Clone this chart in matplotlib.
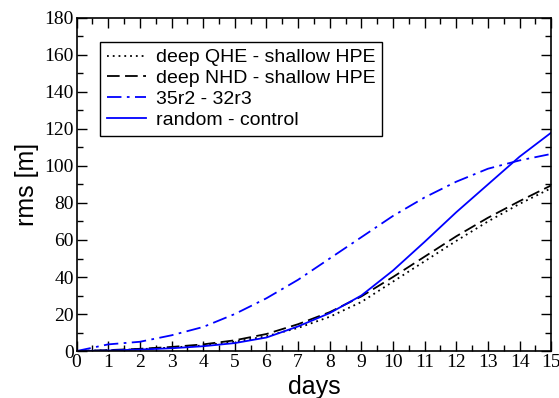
import numpy as np
import matplotlib.pyplot as plt
from matplotlib.ticker import MultipleLocator

days = np.arange(0, 16)
qhe = [0, 0.4, 1.0, 1.9, 3.0, 5.0, 8.0, 12.5, 18.5, 26.5, 37.5, 48.5, 59.5, 70.0, 79.5, 88.0]
nhd = [0, 0.5, 1.2, 2.2, 3.6, 5.8, 9.2, 14.5, 21.0, 29.5, 40.0, 51.0, 62.0, 72.0, 81.0, 89.5]
r35 = [0, 3.6, 5.0, 8.5, 13.0, 20.0, 28.5, 38.5, 50.0, 61.5, 73.0, 83.0, 91.5, 98.5, 103.0, 106.5]
rnd = [0, 0.3, 0.8, 1.5, 2.6, 4.3, 7.3, 13.3, 20.5, 30.0, 43.5, 59.0, 75.0, 90.0, 105.0, 118.0]

plt.rcParams['font.family'] = ['Liberation Sans', 'DejaVu Sans']

fig = plt.figure(figsize=(5.59, 3.98), dpi=100)
ax = fig.add_axes([0.137, 0.118, 0.849, 0.837])

ax.plot(days, qhe, color='black', lw=1.3, ls=(0, (1, 2.2)), label='deep QHE - shallow HPE')
ax.plot(days, nhd, color='black', lw=1.3, ls=(0, (7, 3)), label='deep NHD - shallow HPE')
ax.plot(days, r35, color='#0000ff', lw=1.3, ls=(0, (8, 3, 1.5, 3)), label='35r2 - 32r3')
ax.plot(days, rnd, color='#0000ff', lw=1.3, label='random - control')

ax.set_xlim(0, 15)
ax.set_ylim(0, 180)
ax.xaxis.set_major_locator(MultipleLocator(1))
ax.xaxis.set_minor_locator(MultipleLocator(0.5))
ax.yaxis.set_major_locator(MultipleLocator(20))
ax.yaxis.set_minor_locator(MultipleLocator(10))
ax.tick_params(which='both', direction='in', top=True, right=True, width=1)
ax.tick_params(which='major', length=7, pad=2)
ax.tick_params(which='minor', length=4)
for lab in ax.get_xticklabels() + ax.get_yticklabels():
    lab.set_family('Liberation Serif')
    lab.set_fontsize(14)
for s in ax.spines.values():
    s.set_linewidth(1.2)

ax.set_xlabel('days', fontsize=18, labelpad=3)
ax.set_ylabel('rms [m]', fontsize=18, labelpad=4)

leg = ax.legend(loc='upper left', bbox_to_anchor=(0.05, 0.928), fontsize=14,
                frameon=True, fancybox=False, edgecolor='black', framealpha=1,
                handlelength=2.0, labelspacing=0.17, borderpad=0.35, handletextpad=0.5,
                borderaxespad=0)
leg.get_frame().set_linewidth(1)

fig.savefig('out.png', dpi=100)
